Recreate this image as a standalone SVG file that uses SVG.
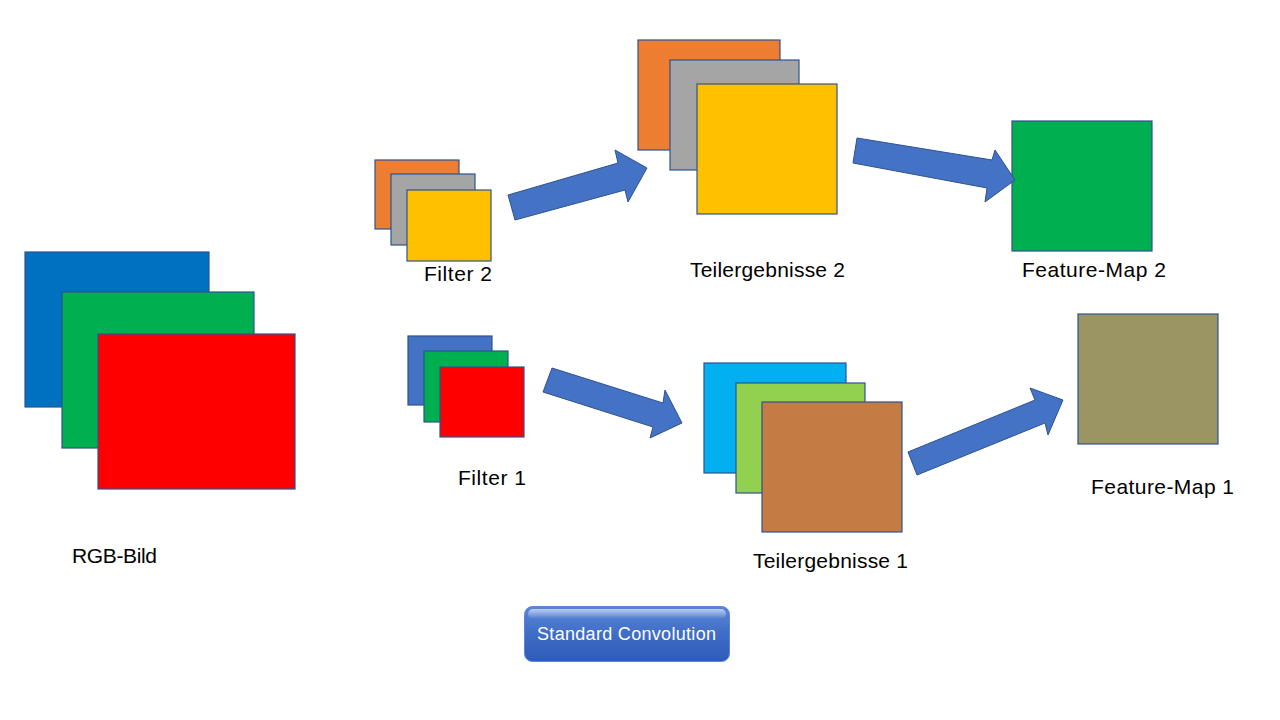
<svg xmlns="http://www.w3.org/2000/svg" width="1280" height="720" viewBox="0 0 1280 720">
<style>
.sq{stroke:#2F528F;stroke-width:1.2}
.ar{fill:#4472C4;stroke:#2F528F;stroke-width:1}
.lb{font-family:"Liberation Sans",Arial,sans-serif;font-size:21px;fill:#000}
.bt{font-family:"Liberation Sans",Arial,sans-serif;font-size:18px;fill:#fff}
</style>
<defs>
<linearGradient id="bg" x1="0" y1="0" x2="0" y2="1">
<stop offset="0" stop-color="#5B86D6"/>
<stop offset="0.5" stop-color="#3F6DC7"/>
<stop offset="1" stop-color="#2E5BB9"/>
</linearGradient>
<linearGradient id="hl" x1="0" y1="0" x2="0" y2="1">
<stop offset="0" stop-color="#ffffff" stop-opacity="0.6"/>
<stop offset="1" stop-color="#ffffff" stop-opacity="0"/>
</linearGradient>
</defs>
<rect width="1280" height="720" fill="#fff"/>

<g id="rgb-bild">
<rect class="sq" x="25" y="252" width="184" height="155" fill="#0070C0"/>
<rect class="sq" x="62" y="292" width="192" height="156" fill="#00B050"/>
<rect class="sq" x="98" y="334" width="197" height="155" fill="#FF0000"/>
<text class="lb" x="72" y="563" textLength="85">RGB-Bild</text>
</g>

<g id="filter2">
<rect class="sq" x="375" y="160" width="84" height="69" fill="#ED7D31"/>
<rect class="sq" x="391" y="174" width="84" height="71" fill="#A5A5A5"/>
<rect class="sq" x="407" y="190" width="84" height="71" fill="#FFC000"/>
<text class="lb" x="424" y="281" textLength="68">Filter 2</text>
</g>

<g id="filter1">
<rect class="sq" x="408" y="336" width="84" height="69" fill="#4472C4"/>
<rect class="sq" x="424" y="351" width="84" height="71" fill="#00B050"/>
<rect class="sq" x="440" y="367" width="84" height="70" fill="#FF0000"/>
<text class="lb" x="458" y="485" textLength="68">Filter 1</text>
</g>

<g id="teilergebnisse2">
<rect class="sq" x="638" y="40" width="142" height="110" fill="#ED7D31"/>
<rect class="sq" x="670" y="60" width="129" height="110" fill="#A5A5A5"/>
<rect class="sq" x="697" y="84" width="140" height="130" fill="#FFC000"/>
<text class="lb" x="690" y="277" textLength="155">Teilergebnisse 2</text>
</g>

<g id="teilergebnisse1">
<rect class="sq" x="704" y="363" width="142" height="110" fill="#00B0F0"/>
<rect class="sq" x="736" y="383" width="129" height="110" fill="#92D050"/>
<rect class="sq" x="762" y="402" width="140" height="130" fill="#C47C45"/>
<text class="lb" x="753" y="568" textLength="155">Teilergebnisse 1</text>
</g>

<g id="featuremap2">
<rect class="sq" x="1012" y="121" width="140" height="130" fill="#00B050"/>
<text class="lb" x="1022" y="277" textLength="144">Feature-Map 2</text>
</g>

<g id="featuremap1">
<rect class="sq" x="1078" y="314" width="140" height="130" fill="#9A9563"/>
<text class="lb" x="1091" y="494" textLength="143">Feature-Map 1</text>
</g>

<g id="connectors">
<polygon class="ar" points="508,195 618,163 615,150 647,168 628,202 625,190 515,220"/>
<polygon class="ar" points="857,138 992,160 995,150 1015,180 985,202 987,188 853,163"/>
<polygon class="ar" points="552,368 663,403 665,390 682,423 650,438 653,427 543,392"/>
<polygon class="ar" points="908,452 1035,400 1030,388 1063,400 1048,435 1045,423 917,475"/>
</g>

<g id="standard-convolution">
<rect x="524.5" y="606.5" width="205" height="55" rx="8" fill="url(#bg)" stroke="#5B86D6" stroke-width="1"/>
<rect x="528" y="609" width="198" height="10" rx="5" fill="url(#hl)"/>
<text class="bt" x="537" y="640" textLength="179">Standard Convolution</text>
</g>
</svg>
